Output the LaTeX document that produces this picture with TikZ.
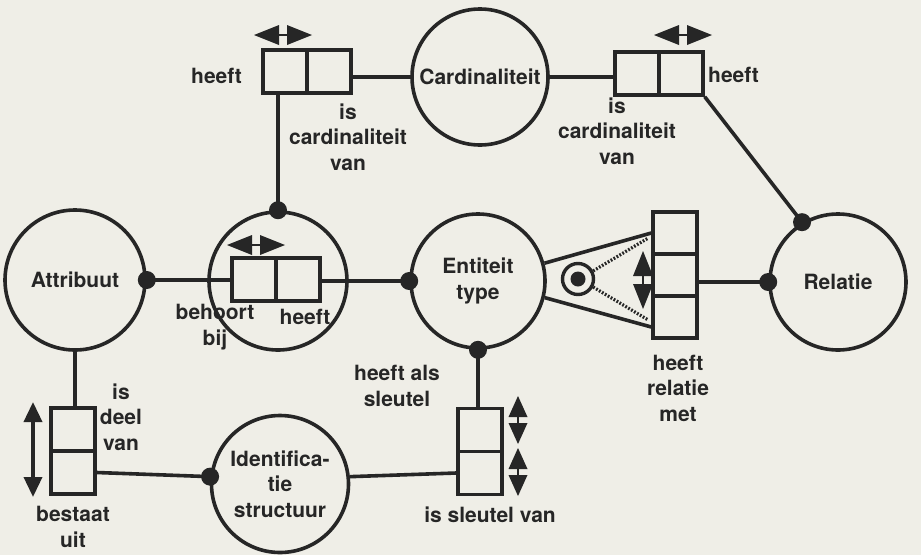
\documentclass[tikz,border=0pt]{standalone}
\usepackage{fontspec}
\setmainfont{TeX Gyre Heros}
\usetikzlibrary{arrows.meta,calc}
\definecolor{ink}{HTML}{262626}
\definecolor{paper}{HTML}{EFEEE7}
\tikzset{
  twohead/.pic={
    \fill[ink] (-29,0) -- (-4,-10) -- (-4,10) -- cycle;
    \fill[ink] (29,0) -- (4,-10) -- (4,10) -- cycle;
    \draw[ink, line width=2.6pt] (-5,0) -- (5,0);
  },
  twoheadsm/.pic={
    \fill[ink] (-24,0) -- (-3,-9.5) -- (-3,9.5) -- cycle;
    \fill[ink] (24,0) -- (3,-9.5) -- (3,9.5) -- cycle;
    \draw[ink, line width=2.6pt] (-4,0) -- (4,0);
  },
}
\begin{document}
\begin{tikzpicture}[x=1pt,y=-1pt,
  every node/.style={font=\bfseries\fontsize{21}{25.5}\selectfont, text=ink},
  circ/.style={circle, draw=ink, line width=3.6pt, inner sep=0pt, align=center},
  cell/.style={rectangle, draw=ink, line width=3.4pt, minimum width=44pt, minimum height=43pt, inner sep=0pt},
  dot/.style={circle, fill=ink, inner sep=0pt, minimum size=18pt},
  conn/.style={draw=ink, line width=3.6pt},
  lbl/.style={inner sep=0pt, align=center},
  dotline/.style={draw=ink, line width=3.2pt, dash pattern=on 1.8pt off 1.6pt},
]
\fill[paper] (0,0) rectangle (921,555);
\useasboundingbox (0,0) rectangle (921,555);

% entity circles
\node[circ, minimum size=136pt] (card) at (480,77) {Cardinaliteit};
\node[circ, minimum size=140pt] (attr) at (75,280) {Attribuut};
\node[circ, minimum size=138pt] (nest) at (278,281) {};
\node[circ, minimum size=134pt] (ent) at (478,281) {Entiteit\\type};
\node[circ, minimum size=136pt] (rel) at (838,282) {Relatie};
\node[circ, minimum size=137pt] (ident) at (280,484) {Identifica-\\tie\\structuur};

% role boxes
\node[cell] (tl1) at (285,71.5) {};
\node[cell] (tl2) at (329,71.5) {};
\node[cell] (tr1) at (637,73.5) {};
\node[cell] (tr2) at (681,73.5) {};
\node[cell] (n1) at (254,279.5) {};
\node[cell] (n2) at (298,279.5) {};
\node[cell, minimum height=42pt] (r1) at (675,233) {};
\node[cell, minimum height=42pt] (r2) at (675,275) {};
\node[cell, minimum height=42pt] (r3) at (675,317) {};
\node[cell] (a1) at (73,429.5) {};
\node[cell] (a2) at (73,472.5) {};
\node[cell] (k1) at (480,430) {};
\node[cell] (k2) at (480,473) {};

% subtype hub
\node[circle, draw=ink, line width=3.4pt, minimum size=31pt, inner sep=0pt] (hub) at (578,279) {};
\node[dot, minimum size=15pt] (hubc) at (hub) {};

% connectors
\draw[conn] (card.west -| tl2.east) -- (card.west);
\draw[conn] (card.east) -- (card.east -| tr1.west);
\draw[conn] (tr2.south east) -- (rel.121);
\draw[conn] (nest.north) -- (nest.north |- tl1.south);
\draw[conn] (attr.east) -- (attr.east -| n1.west);
\draw[conn] (ent.west -| n2.east) -- (ent.west);
\draw[conn] (ent.15) -- (r1.west);
\draw[conn] (ent.-14) -- ($(r3.west)+(0,10)$);
\draw[dotline] (hub.28) -- ($(r1.west)+(-3,5)$);
\draw[dotline] (hub.-28) -- ($(r3.west)+(-3,3)$);
\draw[conn] (rel.west -| r2.east) -- (rel.west);
\draw[conn] (attr.south) -- (attr.south |- a1.north);
\draw[conn] (a2.east) -- (ident.174);
\draw[conn] (ident.6) -- (k2.west);
\draw[conn] (ent.south) -- (ent.south |- k1.north);

% connection dots
\node[dot] (d1) at (nest.north) {};
\node[dot] (d2) at (attr.east) {};
\node[dot] (d3) at (ent.west) {};
\node[dot] (d4) at (ent.south) {};
\node[dot] (d5) at (rel.west) {};
\node[dot] (d6) at (rel.121) {};
\node[dot] (d7) at (ident.174) {};

% uniqueness arrows
\pic at (283,35) {twohead};
\pic at (683,35) {twohead};
\pic at (256,245) {twohead};
\pic[rotate=90] at (643,280) {twohead};
\pic[rotate=90] at (518,420) {twoheadsm};
\pic[rotate=90] at (518,472) {twoheadsm};
\draw[ink, line width=3.6pt, {Triangle[length=20pt,width=18pt]}-{Triangle[length=20pt,width=18pt]}] (33,402) -- (33,497);

% role labels
\node[lbl, anchor=east] (l1) at (242,76) {heeft};
\node[lbl] (l2) at (348,137) {is\\cardinaliteit\\van};
\node[lbl, anchor=west] (l3) at (708,75) {heeft};
\node[lbl] (l4) at (617,131) {is\\cardinaliteit\\van};
\node[lbl] (l5) at (215,327) {behoort\\bij};
\node[lbl] (l6) at (305,317) {heeft};
\node[lbl] (l7) at (678,388) {heeft\\relatie\\met};
\node[lbl] (l8) at (397,386) {heeft als\\sleutel};
\node[lbl] (l9) at (490,515) {is sleutel van};
\node[lbl] (l10) at (121,417) {is\\deel\\van};
\node[lbl] (l11) at (73,527) {bestaat\\uit};
\end{tikzpicture}
\end{document}
